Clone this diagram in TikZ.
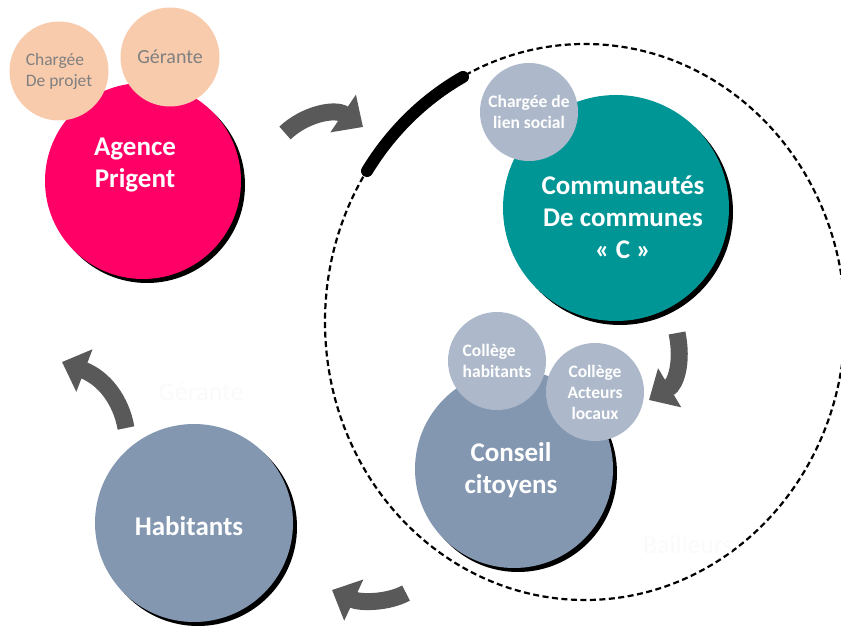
\documentclass[tikz,border=0pt]{standalone}
\usepackage{fontspec}
\setmainfont{Carlito}
\usetikzlibrary{arrows.meta,shadows}
\definecolor{rose}{RGB}{255,0,102}
\definecolor{peche}{RGB}{248,203,173}
\definecolor{canard}{RGB}{0,150,150}
\definecolor{ardoise}{RGB}{132,151,176}
\definecolor{brume}{RGB}{173,185,202}
\definecolor{flecheg}{RGB}{89,89,89}
\definecolor{gristexte}{RGB}{128,128,128}
\tikzstyle{grand}=[circle,inner sep=0pt,drop shadow={opacity=1,fill=black,shadow xshift=4pt,shadow yshift=-4pt}]
\tikzstyle{titre}=[text=white,font=\fontsize{27}{32}\selectfont\bfseries,align=center]
\tikzstyle{petit}=[circle,inner sep=0pt,minimum size=98pt,fill=brume,text=white,font=\fontsize{17.5}{21}\selectfont\bfseries,align=center]
\tikzstyle{rond}=[circle,inner sep=0pt,minimum size=99pt,fill=peche,text=gristexte,align=center]
\tikzstyle{fantome}=[text=black!2,font=\fontsize{26}{30}\selectfont]
\tikzstyle{fleche}=[draw=flecheg,line width=17pt,-{Triangle[length=24pt,width=44pt]}]

\begin{document}
\begin{tikzpicture}[x=1pt,y=-1pt]
\useasboundingbox (0,0) rectangle (841,628);
% perimetre
\draw[line width=2.2pt,dash pattern=on 6pt off 3.5pt] (585,322) ellipse [x radius=260pt,y radius=278pt];
\draw[line width=12pt,line cap=round] (367,171) arc[start angle=147,end angle=118,x radius=260pt,y radius=278pt];
% grands cercles
\node[grand,fill=rose,minimum size=196pt] (agence) at (143,181) {};
\node[grand,fill=canard,minimum size=226pt] (cc) at (616,208) {};
\node[grand,fill=ardoise,minimum size=198pt] (conseil) at (514,469) {};
\node[grand,fill=ardoise,minimum size=198pt] (habitants) at (194,523) {};
\node[titre] (agence-t) at (135,165) {Agence\\Prigent};
\node[titre] (cc-t) at (623,217) {Communautés\\De communes\\« C »};
\node[titre] (conseil-t) at (511,470) {Conseil\\citoyens};
\node[titre] (habitants-t) at (189,526) {Habitants};
% petits cercles
\node[rond,align=left,font=\fontsize{17.5}{21}\selectfont] (projet) at (59,71) {Chargée\\De projet};
\node[rond,font=\fontsize{20}{24}\selectfont] (gerante) at (170,57) {Gérante};
\node[petit] (lien) at (529,112) {Chargée de\\lien social};
\node[petit,align=left] (colhab) at (497,361) {Collège\\habitants};
\node[petit] (colact) at (595,392) {Collège\\Acteurs\\locaux};
% textes blancs
\node[fantome] (gerante2) at (201,392) {Gérante};
\node[fantome] (bailleurs) at (688,545) {Bailleurs};
% fleches
\coordinate (f1a) at (285,133);
\coordinate (f1b) at (363,127);
\coordinate (f2a) at (677,333);
\coordinate (f2b) at (649,400);
\coordinate (f3a) at (406,593);
\coordinate (f3b) at (332,590);
\coordinate (f4a) at (126,428);
\coordinate (f4b) at (62,362);
\draw[fleche] (f1a) .. controls (305,114) and (335,108) .. (f1b);
\draw[fleche] (f2a) .. controls (683,362) and (676,384) .. (f2b);
\draw[fleche] (f3a) .. controls (388,603) and (360,603) .. (f3b);
\draw[fleche] (f4a) .. controls (121,400) and (104,378) .. (f4b);
\end{tikzpicture}
\end{document}
